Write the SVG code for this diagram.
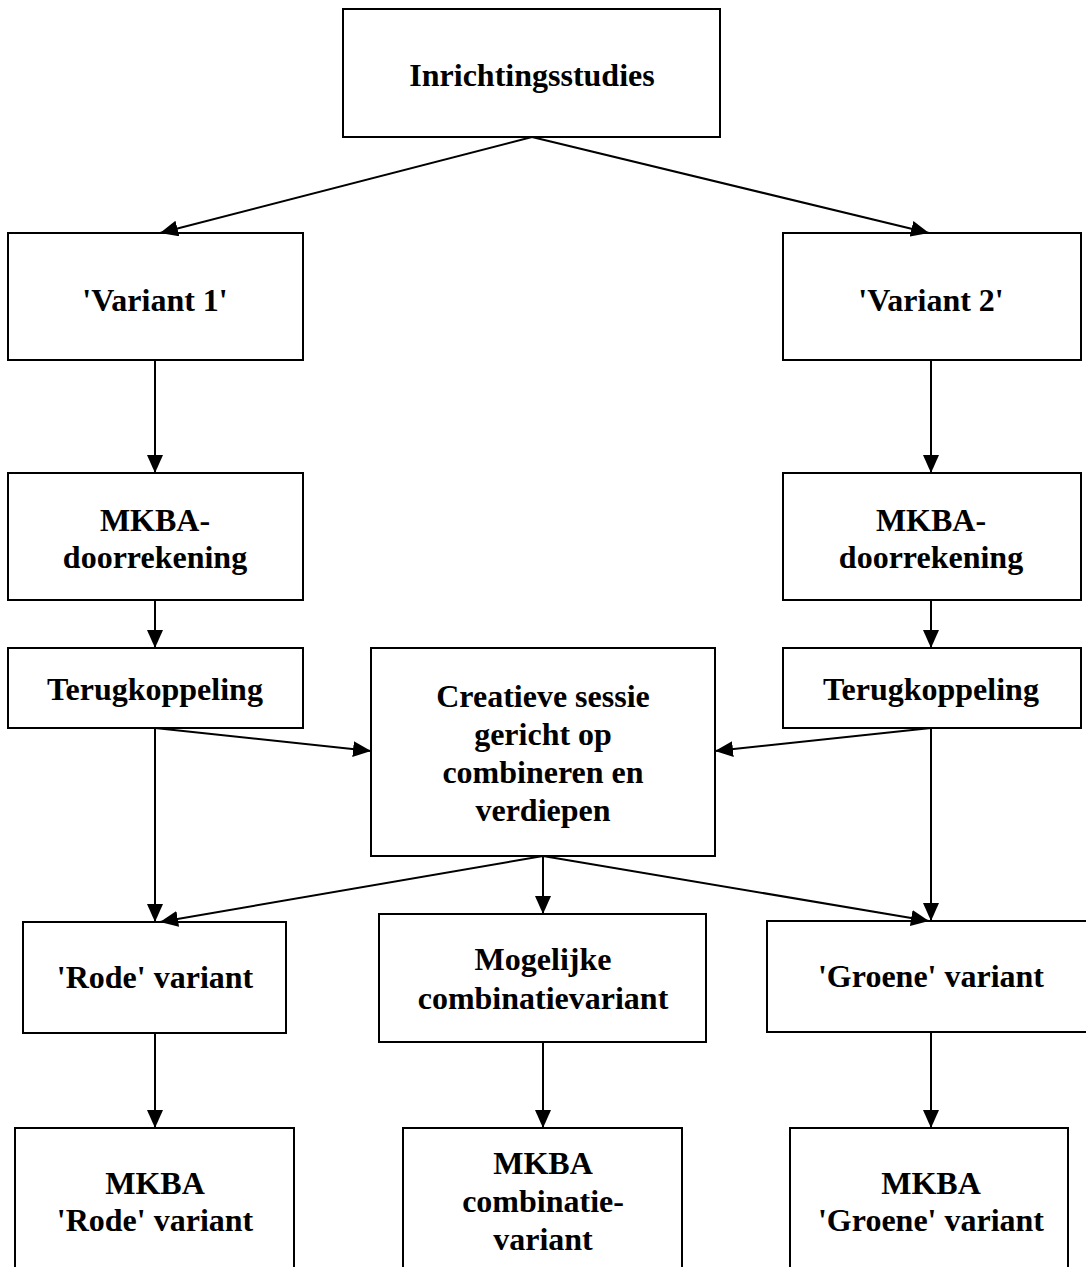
<svg xmlns="http://www.w3.org/2000/svg" width="1086" height="1267" viewBox="0 0 1086 1267">
<style>
.box{fill:#fff;stroke:#000;stroke-width:2}
.t{font-family:"Liberation Serif","Times New Roman",serif;font-weight:bold;font-size:32px;text-anchor:middle;fill:#000}
.c{stroke:#000;stroke-width:2;fill:none;marker-end:url(#ah)}
</style>
<defs>
<marker id="ah" viewBox="0 0 18 16" refX="18" refY="8" markerWidth="18" markerHeight="16" markerUnits="userSpaceOnUse" orient="auto">
<path d="M0,0 L18,8 L0,16 z" fill="#000"/>
</marker>
</defs>
<rect width="1086" height="1267" fill="#fff"/>
<g id="n1"><rect class="box" x="343" y="9" width="377" height="128"/><text class="t" x="532" y="86">Inrichtingsstudies</text></g>
<g id="n2"><rect class="box" x="8" y="233" width="295" height="127"/><text class="t" x="155" y="311">'Variant 1'</text></g>
<g id="n3"><rect class="box" x="783" y="233" width="298" height="127"/><text class="t" x="931" y="311">'Variant 2'</text></g>
<g id="n4"><rect class="box" x="8" y="473" width="295" height="127"/><text class="t" x="155" y="531">MKBA-</text><text class="t" x="155" y="568">doorrekening</text></g>
<g id="n5"><rect class="box" x="783" y="473" width="298" height="127"/><text class="t" x="931" y="531">MKBA-</text><text class="t" x="931" y="568">doorrekening</text></g>
<g id="n6"><rect class="box" x="8" y="648" width="295" height="80"/><text class="t" x="155" y="700">Terugkoppeling</text></g>
<g id="n7"><rect class="box" x="783" y="648" width="298" height="80"/><text class="t" x="931" y="700">Terugkoppeling</text></g>
<g id="n8"><rect class="box" x="371" y="648" width="344" height="208"/><text class="t" x="543" y="707">Creatieve sessie</text><text class="t" x="543" y="745">gericht op</text><text class="t" x="543" y="783">combineren en</text><text class="t" x="543" y="821">verdiepen</text></g>
<g id="n9"><rect class="box" x="23" y="922" width="263" height="111"/><text class="t" x="155" y="988">'Rode' variant</text></g>
<g id="n10"><rect class="box" x="379" y="914" width="327" height="128"/><text class="t" x="543" y="970">Mogelijke</text><text class="t" x="543" y="1009">combinatievariant</text></g>
<g id="n11"><rect class="box" x="767" y="921" width="325" height="111"/><text class="t" x="931" y="987">'Groene' variant</text></g>
<g id="n12"><rect class="box" x="15" y="1128" width="279" height="145"/><text class="t" x="155" y="1194">MKBA</text><text class="t" x="155" y="1231">'Rode' variant</text></g>
<g id="n13"><rect class="box" x="403" y="1128" width="279" height="145"/><text class="t" x="543" y="1174">MKBA</text><text class="t" x="543" y="1212">combinatie-</text><text class="t" x="543" y="1250">variant</text></g>
<g id="n14"><rect class="box" x="790" y="1128" width="278" height="145"/><text class="t" x="931" y="1194">MKBA</text><text class="t" x="931" y="1231">'Groene' variant</text></g>
<g id="connectors">
<line class="c" x1="532" y1="137" x2="160" y2="233"/>
<line class="c" x1="532" y1="137" x2="929" y2="233"/>
<line class="c" x1="155" y1="360" x2="155" y2="473"/>
<line class="c" x1="931" y1="360" x2="931" y2="473"/>
<line class="c" x1="155" y1="600" x2="155" y2="648"/>
<line class="c" x1="931" y1="600" x2="931" y2="648"/>
<line class="c" x1="155" y1="728" x2="371" y2="751"/>
<line class="c" x1="931" y1="728" x2="715" y2="751"/>
<line class="c" x1="155" y1="728" x2="155" y2="922"/>
<line class="c" x1="931" y1="728" x2="931" y2="921"/>
<line class="c" x1="543" y1="856" x2="160" y2="922"/>
<line class="c" x1="543" y1="856" x2="543" y2="914"/>
<line class="c" x1="543" y1="856" x2="929" y2="921"/>
<line class="c" x1="155" y1="1033" x2="155" y2="1128"/>
<line class="c" x1="543" y1="1042" x2="543" y2="1128"/>
<line class="c" x1="931" y1="1032" x2="931" y2="1128"/>
</g>
</svg>
